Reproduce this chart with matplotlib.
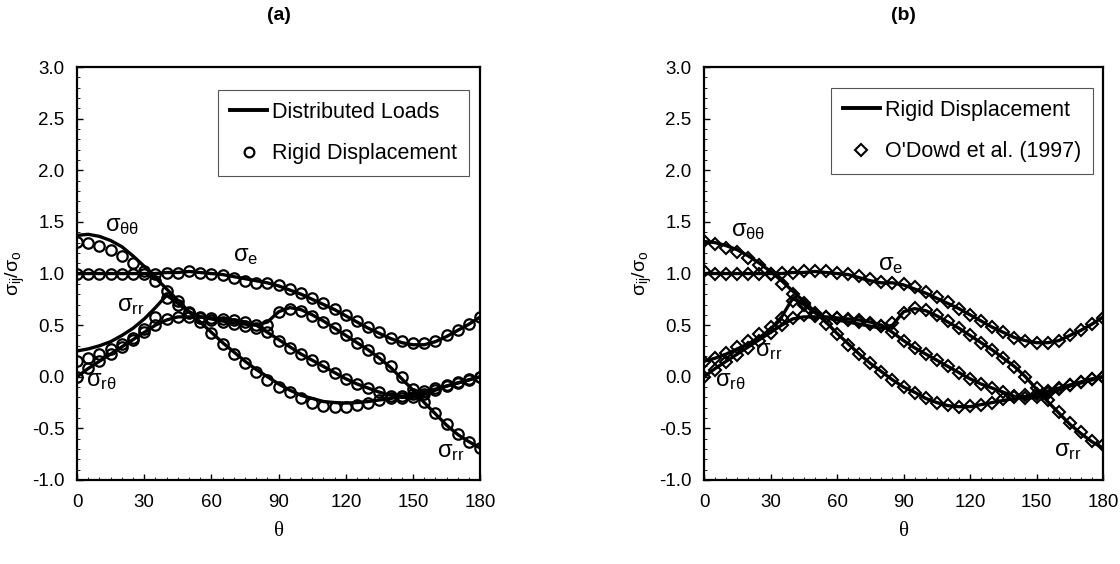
import numpy as np
import matplotlib
matplotlib.use('Agg')
import matplotlib.pyplot as plt
from matplotlib.ticker import MultipleLocator, FormatStrFormatter

plt.rcParams['font.family'] = ['Liberation Sans', 'DejaVu Sans']
plt.rcParams['mathtext.fontset'] = 'custom'
plt.rcParams['mathtext.rm'] = 'Liberation Sans'
plt.rcParams['mathtext.it'] = 'Liberation Sans'

# angle, degrees (5 degree steps)
theta = np.arange(0, 181, 5)

# (a) distributed loads (line)
tt_dl = [1.37, 1.38, 1.36, 1.32, 1.26, 1.17, 1.07, 0.96, 0.85, 0.74, 0.63, 0.53, 0.43, 0.33, 0.24, 0.15, 0.07, 0.00, -0.07,
         -0.13, -0.18, -0.21, -0.24, -0.25, -0.255, -0.25, -0.24, -0.225, -0.21, -0.19, -0.17, -0.145, -0.12, -0.09, -0.06, -0.03, 0.00]
e_dl = [1.00, 1.00, 1.00, 1.00, 1.00, 1.00, 1.00, 1.00, 1.01, 1.01, 1.02, 1.01, 1.00, 0.99, 0.97, 0.95, 0.93, 0.91, 0.88,
        0.84, 0.80, 0.75, 0.70, 0.65, 0.59, 0.53, 0.47, 0.42, 0.37, 0.33, 0.31, 0.31, 0.34, 0.39, 0.45, 0.51, 0.58]
rr_dl = [0.25, 0.27, 0.30, 0.34, 0.40, 0.47, 0.56, 0.67, 0.79, 0.71, 0.63, 0.58, 0.56, 0.54, 0.52, 0.51, 0.50, 0.53, 0.63,
         0.67, 0.65, 0.60, 0.54, 0.47, 0.40, 0.33, 0.26, 0.18, 0.09, -0.02, -0.13, -0.25, -0.36, -0.47, -0.56, -0.63, -0.69]
rt_dl = [0.00, 0.08, 0.15, 0.22, 0.29, 0.36, 0.43, 0.50, 0.55, 0.58, 0.58, 0.58, 0.57, 0.56, 0.55, 0.53, 0.50, 0.43, 0.36,
         0.29, 0.22, 0.16, 0.10, 0.04, -0.02, -0.07, -0.11, -0.15, -0.18, -0.20, -0.20, -0.17, -0.13, -0.09, -0.06, -0.03, 0.00]

# rigid displacement (circles in (a), line in (b))
tt_rd = [1.31, 1.30, 1.27, 1.23, 1.17, 1.10, 1.02, 0.93, 0.83, 0.73, 0.63, 0.53, 0.42, 0.32, 0.22, 0.13, 0.05, -0.03, -0.10,
         -0.15, -0.21, -0.25, -0.28, -0.29, -0.29, -0.27, -0.25, -0.23, -0.21, -0.19, -0.17, -0.14, -0.11, -0.08, -0.05, -0.02, 0.00]
e_rd = [1.00, 1.00, 1.00, 1.00, 1.00, 1.00, 1.00, 1.00, 1.01, 1.01, 1.02, 1.01, 1.00, 0.99, 0.96, 0.93, 0.91, 0.91, 0.89,
        0.85, 0.81, 0.76, 0.71, 0.66, 0.60, 0.54, 0.48, 0.43, 0.38, 0.35, 0.33, 0.33, 0.35, 0.40, 0.45, 0.51, 0.58]
rr_rd = [0.15, 0.18, 0.22, 0.27, 0.32, 0.38, 0.46, 0.58, 0.76, 0.70, 0.62, 0.57, 0.55, 0.53, 0.51, 0.49, 0.47, 0.50, 0.63,
         0.66, 0.64, 0.59, 0.53, 0.47, 0.40, 0.33, 0.26, 0.18, 0.10, 0.00, -0.12, -0.24, -0.35, -0.46, -0.55, -0.63, -0.69]
rt_rd = [0.00, 0.08, 0.15, 0.22, 0.29, 0.36, 0.43, 0.50, 0.56, 0.58, 0.58, 0.58, 0.57, 0.56, 0.55, 0.53, 0.50, 0.43, 0.35,
         0.28, 0.22, 0.16, 0.10, 0.04, -0.02, -0.07, -0.11, -0.15, -0.19, -0.21, -0.20, -0.17, -0.13, -0.09, -0.06, -0.03, 0.00]

# (b) O'Dowd et al. (1997) (diamonds)
tt_od = [1.32, 1.29, 1.25, 1.21, 1.15, 1.08, 1.00, 0.90, 0.80, 0.71, 0.61, 0.51, 0.41, 0.31, 0.22, 0.13, 0.05, -0.03, -0.10,
         -0.16, -0.21, -0.25, -0.27, -0.29, -0.28, -0.27, -0.25, -0.22, -0.20, -0.18, -0.17, -0.14, -0.11, -0.08, -0.05, -0.02, 0.00]
e_od = [1.02, 1.00, 1.00, 1.00, 1.00, 1.00, 1.00, 1.01, 1.01, 1.02, 1.02, 1.02, 1.01, 1.00, 0.98, 0.95, 0.92, 0.91, 0.90,
        0.87, 0.82, 0.77, 0.72, 0.66, 0.60, 0.54, 0.48, 0.43, 0.38, 0.35, 0.33, 0.33, 0.35, 0.40, 0.45, 0.51, 0.57]
rr_od = [0.14, 0.18, 0.23, 0.29, 0.35, 0.41, 0.48, 0.57, 0.73, 0.70, 0.62, 0.58, 0.57, 0.55, 0.53, 0.51, 0.49, 0.52, 0.62,
         0.67, 0.65, 0.60, 0.54, 0.47, 0.40, 0.33, 0.26, 0.18, 0.09, 0.00, -0.11, -0.23, -0.34, -0.45, -0.54, -0.62, -0.66]
rt_od = [0.00, 0.07, 0.14, 0.21, 0.28, 0.35, 0.42, 0.50, 0.57, 0.60, 0.59, 0.58, 0.57, 0.56, 0.55, 0.52, 0.49, 0.43, 0.35,
         0.28, 0.22, 0.16, 0.10, 0.04, -0.02, -0.07, -0.11, -0.15, -0.19, -0.21, -0.20, -0.16, -0.12, -0.08, -0.05, -0.02, 0.00]

# curve labels: text, x, y
labels_a = [(r'$\sigma_{\theta\theta}$', 20, 1.46), (r'$\sigma_e$', 75, 1.17), (r'$\sigma_{rr}$', 24, 0.69),
            (r'$\sigma_{r\theta}$', 11, -0.04), (r'$\sigma_{rr}$', 167, -0.73)]
labels_b = [(r'$\sigma_{\theta\theta}$', 20, 1.41), (r'$\sigma_e$', 84, 1.08), (r'$\sigma_{rr}$', 29, 0.25),
            (r'$\sigma_{r\theta}$', 12, -0.04), (r'$\sigma_{rr}$', 164, -0.72)]

fig = plt.figure(figsize=(11.2, 5.64), dpi=100)
ax_a = fig.add_axes([0.0688, 0.149, 0.36, 0.732])
ax_b = fig.add_axes([0.6286, 0.149, 0.3563, 0.732])


def style(ax, title):
    ax.set_xlim(0, 180)
    ax.set_ylim(-1, 3)
    ax.xaxis.set_major_locator(MultipleLocator(30))
    ax.xaxis.set_minor_locator(MultipleLocator(5))
    ax.yaxis.set_major_locator(MultipleLocator(0.5))
    ax.yaxis.set_minor_locator(MultipleLocator(0.1))
    ax.yaxis.set_major_formatter(FormatStrFormatter('%.1f'))
    ax.tick_params(which='both', direction='in', labelsize=13.5, top=False, right=False)
    ax.tick_params(axis='y', which='major', length=4, width=1, pad=9)
    ax.tick_params(axis='x', which='major', length=4, width=1, pad=10)
    ax.tick_params(which='minor', length=2, width=0.6)
    for s in ax.spines.values():
        s.set_linewidth(1.6)
    ax.set_xlabel('θ', fontsize=15, family=['Liberation Serif'], labelpad=8)
    ax.set_ylabel(r'$\sigma_{ij}/\sigma_o$', fontsize=14)
    ax.yaxis.set_label_coords(-0.125, 0.5)
    ax.set_title(title, fontsize=14, fontweight='bold', pad=34)


def add_legend(ax, handles, names, x, y):
    leg = ax.legend(handles, names, loc='upper right', bbox_to_anchor=(x, y),
                    bbox_transform=ax.transData, borderaxespad=0, fontsize=15.5,
                    fancybox=False, edgecolor='#555555', framealpha=1, handlelength=1.7,
                    labelspacing=0.95, borderpad=0.55, handletextpad=0.25)
    leg.get_frame().set_linewidth(0.8)


# panel (a)
for ys in [tt_dl, e_dl, rr_dl, rt_dl]:
    ax_a.plot(theta, ys, color='black', lw=2.4)
for ys in [tt_rd, e_rd, rr_rd, rt_rd]:
    ax_a.plot(theta, ys, ls='none', marker='o', ms=7.5, mfc='none', mec='black', mew=1.6)
for t, x, y in labels_a:
    ax_a.text(x, y, t, fontsize=17, ha='center', va='center')
ha = [plt.Line2D([], [], color='black', lw=2.8),
      plt.Line2D([], [], ls='none', marker='o', ms=7, mfc='none', mec='black', mew=1.6)]
add_legend(ax_a, ha, ['Distributed Loads', 'Rigid Displacement'], 175, 2.78)
style(ax_a, '(a)')

# panel (b)
for ys in [tt_rd, e_rd, rr_rd, rt_rd]:
    ax_b.plot(theta, ys, color='black', lw=2.4)
for ys in [tt_od, e_od, rr_od, rt_od]:
    ax_b.plot(theta, ys, ls='none', marker='D', ms=6, mfc='none', mec='black', mew=1.5)
for t, x, y in labels_b:
    ax_b.text(x, y, t, fontsize=17, ha='center', va='center')
hb = [plt.Line2D([], [], color='black', lw=2.8),
      plt.Line2D([], [], ls='none', marker='D', ms=6, mfc='none', mec='black', mew=1.5)]
add_legend(ax_b, hb, ['Rigid Displacement', "O'Dowd et al. (1997)"], 175.5, 2.80)
style(ax_b, '(b)')

fig.savefig('out.png', dpi=100)
